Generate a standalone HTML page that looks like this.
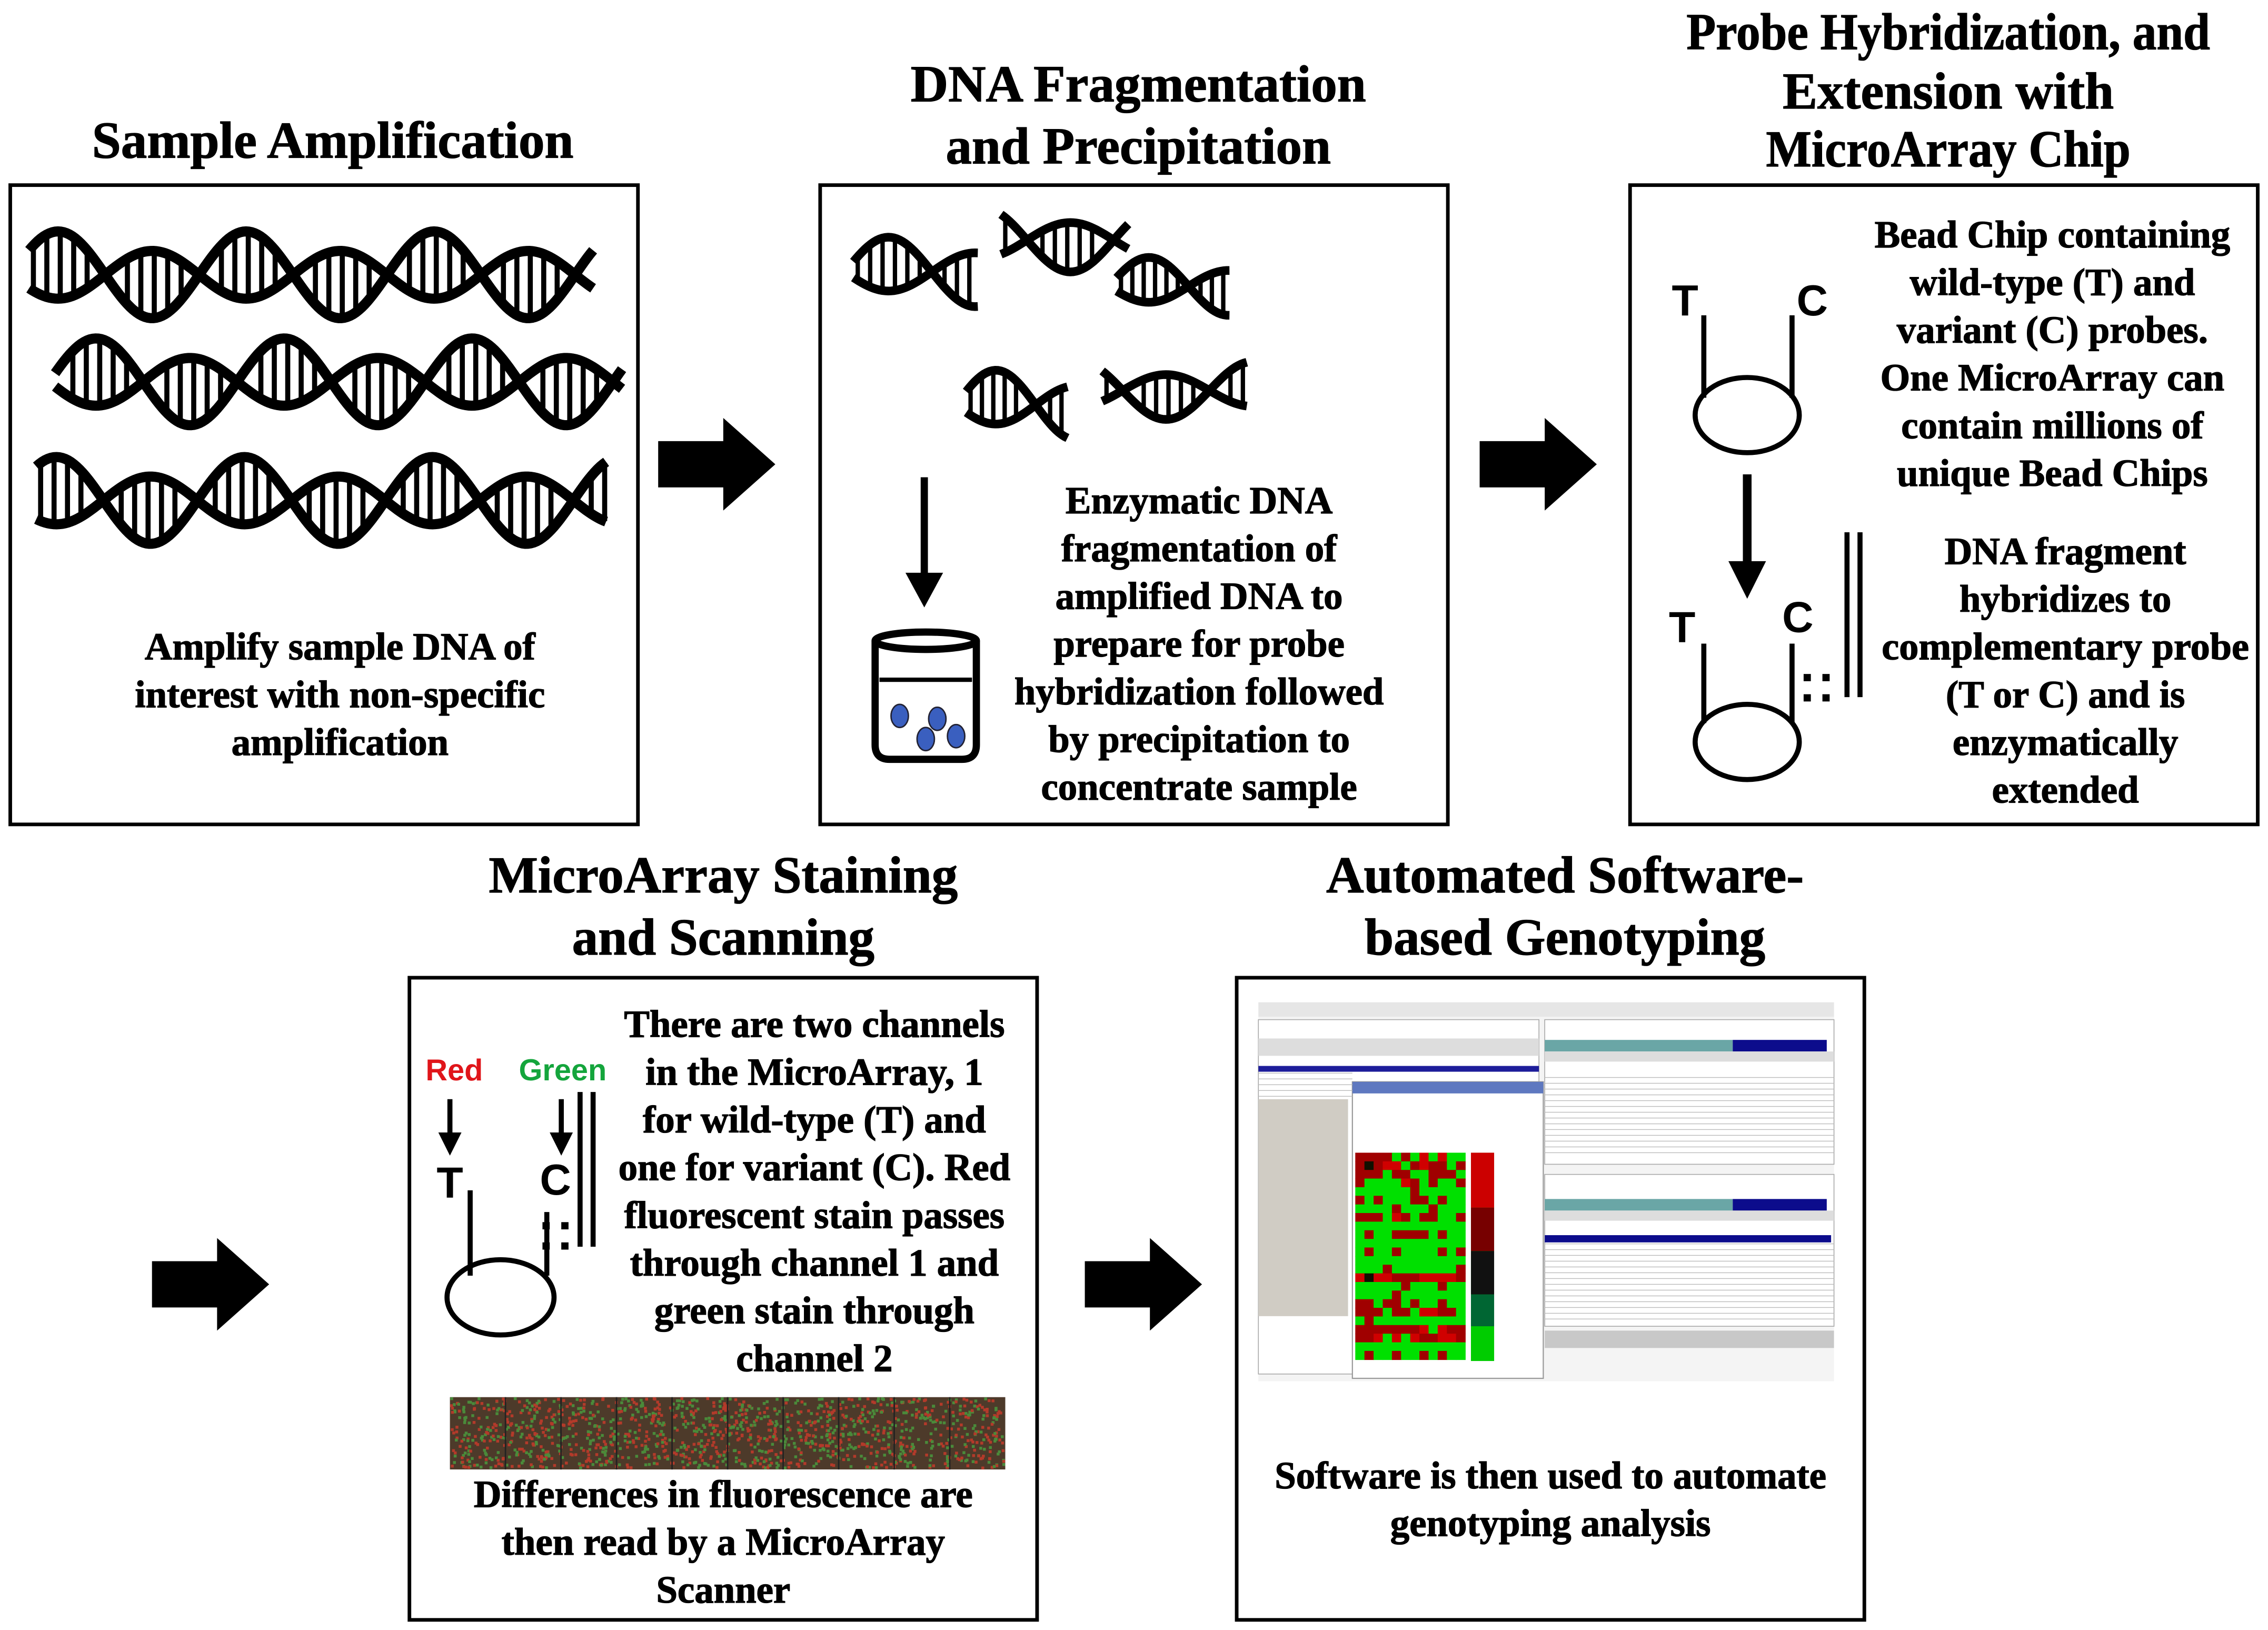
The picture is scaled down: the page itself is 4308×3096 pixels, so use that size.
<!DOCTYPE html>
<html><head><meta charset="utf-8"><style>
html,body{margin:0;padding:0;background:#fff;}
svg{display:block}
.t{font-family:"Liberation Serif",serif;font-weight:bold;fill:#000;text-anchor:middle;stroke:#000;stroke-width:0.5}
.h{font-size:36px}
.b{font-size:26.5px}
.s{font-family:"Liberation Sans",sans-serif;font-weight:bold;text-anchor:middle}
</style></head><body>
<svg id="s" width="4308" height="3096" viewBox="0 0 1568 1127" xmlns="http://www.w3.org/2000/svg">
<g fill="none" stroke="#000" stroke-width="2.5">
<rect x="7" y="128" width="434" height="442"/>
<rect x="567" y="128" width="434" height="442"/>
<rect x="1127" y="128" width="434" height="442"/>
<rect x="283" y="676" width="434" height="444"/>
<rect x="855" y="676" width="434" height="444"/>
</g>
<text class="t h" x="230" y="109">Sample Amplification</text>
<text class="t h" x="787" y="70">DNA Fragmentation</text>
<text class="t h" x="787" y="113">and Precipitation</text>
<text class="t h" x="1347" y="34" textLength="362" lengthAdjust="spacingAndGlyphs">Probe Hybridization, and</text>
<text class="t h" x="1347" y="75">Extension with</text>
<text class="t h" x="1347" y="115" textLength="252" lengthAdjust="spacingAndGlyphs">MicroArray Chip</text>
<text class="t h" x="500" y="617">MicroArray Staining</text>
<text class="t h" x="500" y="660">and Scanning</text>
<text class="t h" x="1082" y="617">Automated Software-</text>
<text class="t h" x="1082" y="660">based Genotyping</text>
<g fill="#000">
<path d="M455,305 H500 V289 L536,321 L500,353 V337 H455 Z"/>
<path d="M1023,305 H1068 V289 L1104,321 L1068,353 V337 H1023 Z"/>
<path d="M105,872 H150 V856 L186,888 L150,920 V904 H105 Z"/>
<path d="M750,872 H795 V856 L831,888 L795,920 V904 H750 Z"/>
</g>
<text class="t b" x="235" y="456">Amplify sample DNA of</text>
<text class="t b" x="235" y="489">interest with non-specific</text>
<text class="t b" x="235" y="522">amplification</text>
<g id="helix"></g>
<line x1="639" y1="330" x2="639" y2="400" stroke="#000" stroke-width="5"/>
<path d="M626,396 L652,396 L639,420 Z" fill="#000"/>
<path d="M605,443 V515 Q605,525 615,525 H665 Q675,525 675,515 V443" fill="none" stroke="#000" stroke-width="5"/>
<ellipse cx="640" cy="443" rx="35" ry="6" fill="none" stroke="#000" stroke-width="5"/>
<line x1="608" y1="470" x2="672" y2="470" stroke="#000" stroke-width="3"/>
<g fill="#3a5fbf" stroke="#223" stroke-width="1">
<ellipse cx="622" cy="495" rx="6" ry="8"/><ellipse cx="648" cy="497" rx="6" ry="8"/><ellipse cx="640" cy="511" rx="6" ry="8"/><ellipse cx="661" cy="509" rx="6" ry="8"/>
</g>
<text class="t b" x="829" y="355">Enzymatic DNA</text>
<text class="t b" x="829" y="388">fragmentation of</text>
<text class="t b" x="829" y="421">amplified DNA to</text>
<text class="t b" x="829" y="454">prepare for probe</text>
<text class="t b" x="829" y="487">hybridization followed</text>
<text class="t b" x="829" y="520">by precipitation to</text>
<text class="t b" x="829" y="553">concentrate sample</text>
<text class="t b" x="1419" y="171">Bead Chip containing</text>
<text class="t b" x="1419" y="204">wild-type (T) and</text>
<text class="t b" x="1419" y="237">variant (C) probes.</text>
<text class="t b" x="1419" y="270">One MicroArray can</text>
<text class="t b" x="1419" y="303">contain millions of</text>
<text class="t b" x="1419" y="336">unique Bead Chips</text>
<text class="t b" x="1428" y="390">DNA fragment</text>
<text class="t b" x="1428" y="423">hybridizes to</text>
<text class="t b" x="1428" y="456" textLength="254" lengthAdjust="spacingAndGlyphs">complementary probe</text>
<text class="t b" x="1428" y="489">(T or C) and is</text>
<text class="t b" x="1428" y="522">enzymatically</text>
<text class="t b" x="1428" y="555">extended</text>
<g stroke="#000" stroke-width="3.5" fill="none">
<line x1="1178" y1="218" x2="1178" y2="275"/><line x1="1239" y1="218" x2="1239" y2="275"/>
<ellipse cx="1208" cy="287" rx="36" ry="26"/>
<line x1="1178" y1="445" x2="1178" y2="500"/><line x1="1239" y1="445" x2="1239" y2="500"/>
<ellipse cx="1208" cy="513" rx="36" ry="26"/>
<line x1="1277" y1="368" x2="1277" y2="482"/><line x1="1286" y1="368" x2="1286" y2="482"/>
</g>
<line x1="1208" y1="328" x2="1208" y2="392" stroke="#000" stroke-width="6"/>
<path d="M1195,388 L1221,388 L1208,414 Z" fill="#000"/>
<text class="s" x="1165" y="218" font-size="30">T</text>
<text class="s" x="1253" y="218" font-size="30">C</text>
<text class="s" x="1163" y="444" font-size="30">T</text>
<text class="s" x="1243" y="437" font-size="30">C</text>
<g fill="#000"><rect x="1247" y="466" width="5" height="5"/><rect x="1260" y="466" width="5" height="5"/><rect x="1247" y="480" width="5" height="5"/><rect x="1260" y="480" width="5" height="5"/></g>
<text class="s" x="314" y="747" font-size="21" fill="#e0151a">Red</text>
<text class="s" x="389" y="747" font-size="21" fill="#14a53c">Green</text>
<line x1="311" y1="760" x2="311" y2="785" stroke="#000" stroke-width="3.5"/><path d="M303,783 L319,783 L311,799 Z"/>
<line x1="388" y1="760" x2="388" y2="785" stroke="#000" stroke-width="3.5"/><path d="M380,783 L396,783 L388,799 Z"/>
<text class="s" x="311" y="828" font-size="30">T</text>
<text class="s" x="384" y="826" font-size="30">C</text>
<g stroke="#000" stroke-width="3.5" fill="none">
<line x1="325" y1="823" x2="325" y2="882"/><line x1="378" y1="838" x2="378" y2="882"/>
<ellipse cx="346" cy="897" rx="37" ry="26"/>
<line x1="401" y1="755" x2="401" y2="862"/><line x1="410" y1="755" x2="410" y2="862"/>
</g>
<g fill="#000"><rect x="375" y="845" width="5" height="5"/><rect x="388" y="845" width="5" height="5"/><rect x="375" y="859" width="5" height="5"/><rect x="388" y="859" width="5" height="5"/></g>
<text class="t b" x="563" y="717">There are two channels</text>
<text class="t b" x="563" y="750">in the MicroArray, 1</text>
<text class="t b" x="563" y="783">for wild-type (T) and</text>
<text class="t b" x="563" y="816">one for variant (C). Red</text>
<text class="t b" x="563" y="849">fluorescent stain passes</text>
<text class="t b" x="563" y="882">through channel 1 and</text>
<text class="t b" x="563" y="915">green stain through</text>
<text class="t b" x="563" y="948">channel 2</text>
<rect x="311" y="966" width="384" height="50" fill="#4d3a2a"/>
<g id="ma"></g>
<text class="t b" x="500" y="1042">Differences in fluorescence are</text>
<text class="t b" x="500" y="1075">then read by a MicroArray</text>
<text class="t b" x="500" y="1108">Scanner</text>
<g id="sw">
<rect x="870" y="693" width="398" height="262" fill="#f4f4f4"/>
<rect x="870" y="693" width="398" height="10" fill="#e6e6e6"/>
<rect x="870" y="705" width="194" height="245" fill="#fff" stroke="#aaa" stroke-width="0.6"/>
<rect x="870" y="718" width="194" height="12" fill="#ddd"/>
<rect x="870" y="760" width="62" height="150" fill="#d0ccc4"/>
<rect x="870" y="737" width="194" height="4" fill="#1d1d9a"/>
<rect x="1068" y="705" width="200" height="100" fill="#fff" stroke="#aaa" stroke-width="0.6"/>
<rect x="1068" y="719" width="130" height="8" fill="#6aa6a6"/><rect x="1198" y="719" width="65" height="8" fill="#0c0c8c"/>
<rect x="1068" y="727" width="200" height="7" fill="#ddd"/>
<rect x="1068" y="812" width="200" height="105" fill="#fff" stroke="#aaa" stroke-width="0.6"/>
<rect x="1068" y="829" width="130" height="8" fill="#6aa6a6"/><rect x="1198" y="829" width="65" height="8" fill="#0c0c8c"/>
<rect x="1068" y="837" width="200" height="7" fill="#ddd"/>
<rect x="1068" y="854" width="198" height="5" fill="#0c0c8c"/>
<rect x="1068" y="920" width="200" height="12" fill="#c8c8c8"/>
<rect x="935" y="748" width="132" height="205" fill="#fff" stroke="#999" stroke-width="0.8"/>
<rect x="935" y="748" width="132" height="8" fill="#5e78c0"/>
<rect x="1017" y="797" width="16" height="144" fill="#0a0"/>
<rect x="1017" y="797" width="16" height="38" fill="#c00"/>
<rect x="1017" y="835" width="16" height="30" fill="#700"/>
<rect x="1017" y="865" width="16" height="30" fill="#111"/>
<rect x="1017" y="895" width="16" height="22" fill="#063"/>
<rect x="1017" y="917" width="16" height="24" fill="#0c0"/>
<g id="hm"></g>
<g id="rows" stroke="#bbb" stroke-width="0.5"></g>
</g>
<text class="t b" x="1072" y="1029">Software is then used to automate</text>
<text class="t b" x="1072" y="1062">genotyping analysis</text>
</svg>
<script>
var NS="http://www.w3.org/2000/svg";
function el(p,n,a){var e=document.createElementNS(NS,n);for(var k in a)e.setAttribute(k,a[k]);p.appendChild(e);return e;}
var H=document.getElementById("helix");
function helix(x0,x1,cy,A,P,sw,ph){
  var d1="",d2="";
  for(var x=x0;x<=x1;x+=2){var s=Math.sin(2*Math.PI*(x-x0)/P+ph);
    d1+=(x==x0?"M":"L")+x+","+(cy-A*s);d2+=(x==x0?"M":"L")+x+","+(cy+A*s*0.55);}
  el(H,"path",{d:d1,fill:"none",stroke:"#000","stroke-width":sw});
  el(H,"path",{d:d2,fill:"none",stroke:"#000","stroke-width":sw});
  for(var x=x0+3;x<x1;x+=P/14){var s=Math.sin(2*Math.PI*(x-x0)/P+ph);
    if(Math.abs(s)>0.35)el(H,"line",{x1:x,x2:x,y1:cy-A*s,y2:cy+A*s*0.55,stroke:"#000","stroke-width":sw*0.5});}
}
helix(20,410,190,30,130,7,0.6);
helix(38,430,264,30,130,7,0.2);
helix(25,420,346,30,130,7,0.9);
helix(590,676,188,24,120,6,0.3);
helix(692,780,166,22,120,6,2.2);
helix(772,850,198,20,110,6,0.3);
helix(668,738,280,24,110,6,0.4);
helix(762,862,270,20,120,6,2.4);
var M=document.getElementById("ma");
var r=1;function rnd(){r=(r*16807)%2147483647;return r/2147483647;}
for(var i=0;i<1400;i++){var c=rnd()<0.5?"#b33a2a":"#4a8a3a";
  el(M,"rect",{x:311+rnd()*382,y:966+rnd()*48,width:2,height:2,fill:c});}
for(var i=1;i<10;i++)el(M,"line",{x1:311+i*38.4,x2:311+i*38.4,y1:966,y2:1016,stroke:"#222","stroke-width":1});
var HM=document.getElementById("hm");
var cols=12,rowsN=24,hx=937,hy=797,cw=76/cols,ch=143/rowsN;
for(var j=0;j<rowsN;j++){var rb=rnd();for(var i=0;i<cols;i++){var v=rnd()*0.5+rb*0.5;
  var c=v<0.5?"#00e000":(v<0.75?"#a00000":(v<0.9?"#d00000":"#101000"));
  el(HM,"rect",{x:hx+i*cw,y:hy+j*ch,width:cw+0.3,height:ch+0.3,fill:c});}}
var R=document.getElementById("rows");
for(var y=745;y<800;y+=4)el(R,"line",{x1:1068,x2:1268,y1:y,y2:y});
for(var y=860;y<915;y+=4)el(R,"line",{x1:1068,x2:1268,y1:y,y2:y});
for(var y=742;y<760;y+=4)el(R,"line",{x1:870,x2:935,y1:y,y2:y});
</script>
</body></html>
